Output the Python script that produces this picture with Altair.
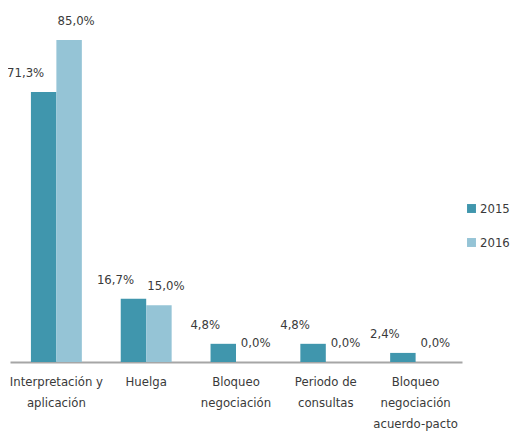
import altair as alt
import pandas as pd

categories = ["Interpretación y\naplicación", "Huelga", "Bloqueo\nnegociación",
              "Periodo de\nconsultas", "Bloqueo\nnegociación\nacuerdo-pacto"]
years = ["2015", "2016"]
v2015 = [71.3, 16.7, 4.8, 4.8, 2.4]
v2016 = [85.0, 15.0, 0.0, 0.0, 0.0]
colors = ["#4096ad", "#95c4d6"]

rows = []
for c, a, b in zip(categories, v2015, v2016):
    for y, v in zip(years, [a, b]):
        rows.append({"cat": c, "year": y, "value": v,
                     "label": f"{v:.1f}".replace(".", ",") + "%"})
df = pd.DataFrame(rows)

FONT = "'DejaVu Sans Condensed', 'Roboto Condensed', Roboto, sans-serif"
TXT = "#3a3a3a"

x = alt.X("cat:N", sort=categories, title=None,
          scale=alt.Scale(paddingInner=0.433, paddingOuter=0.233),
          axis=alt.Axis(labelAngle=0, ticks=False, domainColor="#a6a6a6", domainWidth=2,
                        labelExpr="split(datum.label, '\\n')", labelLineHeight=21,
                        labelPadding=13, labelFontSize=13, labelFont=FONT, labelColor=TXT,
                        labelBaseline="top"))
y = alt.Y("value:Q", scale=alt.Scale(domain=[0, 85], nice=False), axis=None)

base = alt.Chart(df).encode(x=x, y=y, xOffset=alt.XOffset("year:N", sort=years))

bars = base.mark_bar().encode(
    color=alt.Color("year:N", sort=years,
                    scale=alt.Scale(domain=years, range=colors),
                    legend=alt.Legend(title=None, orient="none", legendX=455, legendY=162,
                                      symbolType="square", symbolSize=80, symbolStrokeWidth=0,
                                      labelFontSize=13, labelFont=FONT, labelColor=TXT,
                                      rowPadding=20, labelOffset=2))
)

t1 = base.mark_text(baseline="bottom", dy=-12, dx=-18, fontSize=13, font=FONT, color=TXT).encode(
    text="label:N").transform_filter(alt.datum.year == "2015")
t2 = base.mark_text(baseline="bottom", dy=-12, dx=7, fontSize=13, font=FONT, color=TXT).encode(
    text="label:N").transform_filter(alt.datum.year == "2016")

chart = alt.layer(bars, t1, t2).properties(
    width=452, height=322,
    autosize=alt.AutoSizeParams(type="none"),
    padding={"left": 2, "top": 32, "right": 49, "bottom": 69},
).configure_view(stroke=None)

chart.save("out.html", embed_options={"renderer": "svg", "actions": False})
